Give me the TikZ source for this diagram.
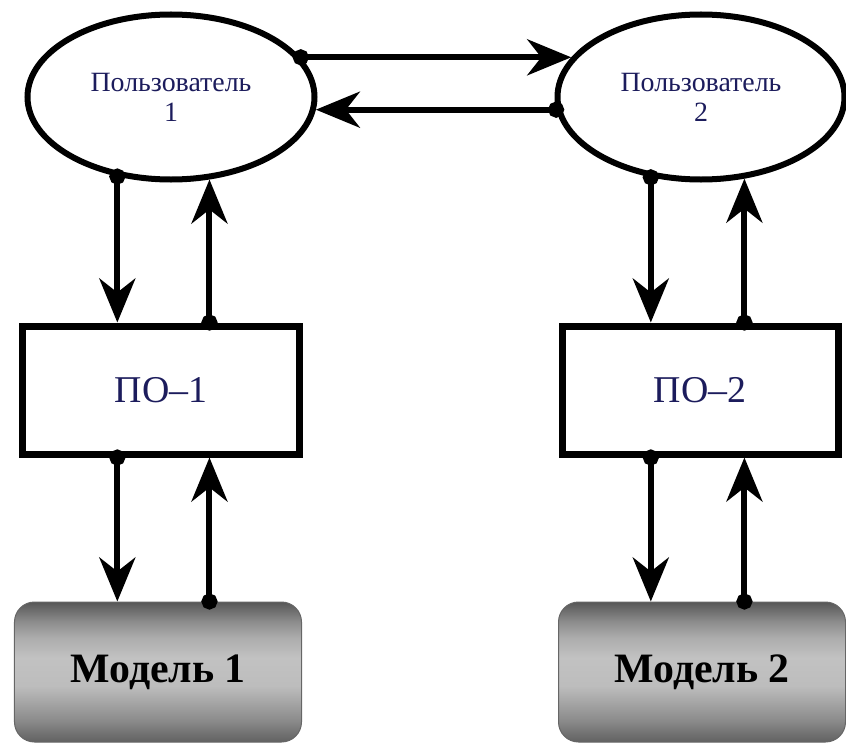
\documentclass[tikz,border=0pt]{standalone}
\usepackage{fontspec}
\setmainfont{Liberation Serif}
\usetikzlibrary{arrows.meta,shapes.geometric}
\definecolor{navy}{RGB}{28,28,92}
% grey band for the model boxes, bottom to top
\pgfdeclareverticalshading{modelshade}{100bp}{color(0bp)=(black!62);
  color(25bp)=(black!62); color(33bp)=(black!45); color(45bp)=(black!26);
  color(55bp)=(black!24); color(62bp)=(black!32); color(68bp)=(black!45);
  color(75bp)=(black!66); color(100bp)=(black!66)}

\begin{document}
\begin{tikzpicture}[x=1bp,y=-1bp,
  user/.style={ellipse,draw,line width=6bp,minimum width=287bp,minimum height=165bp,
    inner sep=0pt,align=center,text=navy,font=\fontsize{28}{30}\selectfont},
  soft/.style={rectangle,draw,line width=7bp,minimum width=276bp,minimum height=128bp,
    text=navy,font=\fontsize{38}{44}\selectfont},
  model/.style={rectangle,rounded corners=20bp,draw=black!60,line width=1bp,
    shading=modelshade,minimum width=287bp,minimum height=140bp,
    font=\bfseries\fontsize{42}{48}\selectfont},
  link/.style={line width=6bp,shorten <=-8bp,
    {Circle[length=16bp]}-{Stealth[length=44bp,width=36bp,inset=14bp]}}]
 \useasboundingbox (0,0) rectangle (846,745);

 \node[user] (u1) at (171,97) {Пользователь\\1};
 \node[user] (u2) at (701,97) {Пользователь\\2};
 \node[soft] (po1) at (161,390) {ПО–1};
 \node[soft] (po2) at (700,390) {ПО–2};
 \node[model] (m1) at (158,672) {Модель 1};
 \node[model] (m2) at (702,672) {Модель 2};

 % users talk to each other
 \draw[link] (u1.17) -- (u2.163);
 \draw[link] (u2.185) -- (u1.355);

 % left column
 \coordinate (a1) at (u1.236);
 \coordinate (b1) at (u1.295);
 \draw[link] (a1) -- (a1 |- po1.north);
 \draw[link] (b1 |- po1.north) -- (b1);
 \draw[link] (a1 |- po1.south) -- (a1 |- m1.north);
 \draw[link] (b1 |- m1.north) -- (b1 |- po1.south);

 % right column
 \coordinate (a2) at (u2.238);
 \coordinate (b2) at (u2.298);
 \draw[link] (a2) -- (a2 |- po2.north);
 \draw[link] (b2 |- po2.north) -- (b2);
 \draw[link] (a2 |- po2.south) -- (a2 |- m2.north);
 \draw[link] (b2 |- m2.north) -- (b2 |- po2.south);
\end{tikzpicture}
\end{document}
